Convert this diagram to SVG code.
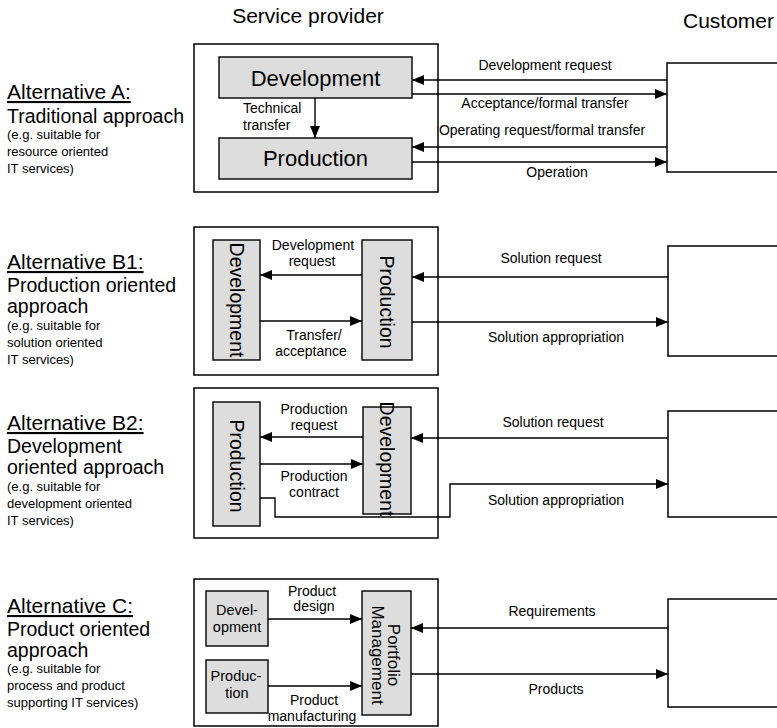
<svg xmlns="http://www.w3.org/2000/svg" width="777" height="728" viewBox="0 0 777 728">
  <style>
    text { font-family: "Liberation Sans", Arial, sans-serif; fill: #000; }
    .head { font-size: 21px; }
    .alt { font-size: 21px; text-decoration: underline; }
    .main { font-size: 19.5px; }
    .small { font-size: 13px; }
    .lbl { font-size: 14px; }
    .mid { text-anchor: middle; }
    .box { fill: #fff; stroke: #000; stroke-width: 1.5; }
    .unit { fill: #dddddd; stroke: #000; stroke-width: 1.4; }
    .unit-big { font-size: 22px; }
    .unit-v { font-size: 19.5px; }
    .unit-s { font-size: 14.5px; }
    .conn path { fill: none; stroke: #000; stroke-width: 1.4; marker-end: url(#arrow); }
  </style>
  <defs>
    <marker id="arrow" markerUnits="userSpaceOnUse" markerWidth="12" markerHeight="10" refX="12" refY="5" orient="auto">
      <path d="M0,0 L12,5 L0,10 z" fill="#000"/>
    </marker>
  </defs>

  <!-- column headings -->
  <text class="head mid" x="308" y="23">Service provider</text>
  <text class="head" x="683" y="28">Customer</text>

  <!-- ===== Alternative A ===== -->
  <g id="label-a">
    <text class="alt" x="7" y="99">Alternative A:</text>
    <text class="main" x="7" y="123">Traditional approach</text>
    <text class="small" x="7" y="139">(e.g. suitable for</text>
    <text class="small" x="7" y="156">resource oriented</text>
    <text class="small" x="7" y="173">IT services)</text>
  </g>
  <g id="provider-a"><rect class="box" x="194" y="44" width="244" height="148"/></g>
  <g id="a-development">
    <rect class="unit" x="219" y="57" width="193" height="41"/>
    <text class="unit-big mid" x="315.5" y="86">Development</text>
  </g>
  <g id="a-production">
    <rect class="unit" x="219" y="138" width="193" height="41"/>
    <text class="unit-big mid" x="315.5" y="166">Production</text>
  </g>
  <g id="customer-a"><rect class="box" x="667" y="63" width="200" height="109"/></g>

  <!-- ===== Alternative B1 ===== -->
  <g id="label-b1">
    <text class="alt" x="7" y="269">Alternative B1:</text>
    <text class="main" x="7" y="292">Production oriented</text>
    <text class="main" x="7" y="313">approach</text>
    <text class="small" x="7" y="330">(e.g. suitable for</text>
    <text class="small" x="7" y="347">solution oriented</text>
    <text class="small" x="7" y="364">IT services)</text>
  </g>
  <g id="provider-b1"><rect class="box" x="194" y="227" width="244" height="148"/></g>
  <g id="b1-development">
    <rect class="unit" x="213" y="240" width="47" height="120"/>
    <text class="unit-v mid" transform="translate(236.5,300) rotate(90)" x="0" y="7">Development</text>
  </g>
  <g id="b1-production">
    <rect class="unit" x="362" y="240" width="50" height="120"/>
    <text class="unit-v mid" transform="translate(387,302) rotate(90)" x="0" y="7">Production</text>
  </g>
  <g id="customer-b1"><rect class="box" x="668" y="246" width="200" height="110"/></g>

  <!-- ===== Alternative B2 ===== -->
  <g id="label-b2">
    <text class="alt" x="7" y="430">Alternative B2:</text>
    <text class="main" x="7" y="453">Development</text>
    <text class="main" x="7" y="474">oriented approach</text>
    <text class="small" x="7" y="491">(e.g. suitable for</text>
    <text class="small" x="7" y="508">development oriented</text>
    <text class="small" x="7" y="525">IT services)</text>
  </g>
  <g id="provider-b2"><rect class="box" x="194" y="388" width="244" height="150"/></g>
  <g id="b2-production">
    <rect class="unit" x="213" y="402" width="47" height="124"/>
    <text class="unit-v mid" transform="translate(236.5,466) rotate(90)" x="0" y="7">Production</text>
  </g>
  <g id="b2-development">
    <rect class="unit" x="363" y="407" width="48" height="107"/>
    <text class="unit-v mid" transform="translate(387,459) rotate(90)" x="0" y="7">Development</text>
  </g>
  <g id="customer-b2"><rect class="box" x="668" y="411" width="200" height="106"/></g>

  <!-- ===== Alternative C ===== -->
  <g id="label-c">
    <text class="alt" x="7" y="613">Alternative C:</text>
    <text class="main" x="7" y="636">Product oriented</text>
    <text class="main" x="7" y="657">approach</text>
    <text class="small" x="7" y="673">(e.g. suitable for</text>
    <text class="small" x="7" y="690">process and product</text>
    <text class="small" x="7" y="707">supporting IT services)</text>
  </g>
  <g id="provider-c"><rect class="box" x="194" y="579" width="244" height="147"/></g>
  <g id="c-development">
    <rect class="unit" x="206" y="591" width="62" height="55"/>
    <text class="unit-s mid" x="237" y="615">Devel-</text>
    <text class="unit-s mid" x="237" y="632">opment</text>
  </g>
  <g id="c-production">
    <rect class="unit" x="206" y="660" width="62" height="53"/>
    <text class="unit-s mid" x="236" y="681">Produc-</text>
    <text class="unit-s mid" x="237" y="698">tion</text>
  </g>
  <g id="c-portfolio">
    <rect class="unit" x="362" y="591" width="49" height="124"/>
    <g transform="translate(387,655) rotate(90)">
      <text class="mid" style="font-size:17px" x="0" y="-1">Portfolio</text>
      <text class="mid" style="font-size:17px" x="0" y="15">Management</text>
    </g>
  </g>
  <g id="customer-c"><rect class="box" x="668" y="599" width="200" height="108"/></g>

  <!-- connectors -->
  <g id="connectors" class="conn">
    <!-- A -->
    <path d="M315,98 V138"/>
    <path d="M667,80 H412"/>
    <path d="M412,94 H667"/>
    <path d="M667,147 H412"/>
    <path d="M412,162 H667"/>
    <!-- B1 -->
    <path d="M362,275 H260"/>
    <path d="M260,321 H362"/>
    <path d="M668,277 H412"/>
    <path d="M412,322 H668"/>
    <!-- B2 -->
    <path d="M363,437 H260"/>
    <path d="M260,464 H363"/>
    <path d="M668,438 H411"/>
    <path d="M260,498 H275 V517 H450 V484 H668"/>
    <!-- C -->
    <path d="M268,619 H362"/>
    <path d="M268,686 H362"/>
    <path d="M668,628 H411"/>
    <path d="M411,674 H668"/>
  </g>

  <!-- connector labels -->
  <g id="connector-labels" class="lbl">
    <text class="lbl" x="243" y="113">Technical</text>
    <text class="lbl" x="243" y="130">transfer</text>
    <text class="lbl mid" x="545" y="70">Development request</text>
    <text class="lbl mid" x="545" y="108">Acceptance/formal transfer</text>
    <text class="lbl mid" x="542" y="135">Operating request/formal transfer</text>
    <text class="lbl mid" x="557" y="177">Operation</text>

    <text class="lbl mid" x="313" y="250">Development</text>
    <text class="lbl mid" x="312" y="266">request</text>
    <text class="lbl mid" x="314" y="340">Transfer/</text>
    <text class="lbl mid" x="311" y="356">acceptance</text>
    <text class="lbl mid" x="551" y="263">Solution request</text>
    <text class="lbl mid" x="556" y="342">Solution appropriation</text>

    <text class="lbl mid" x="314" y="414">Production</text>
    <text class="lbl mid" x="314" y="430">request</text>
    <text class="lbl mid" x="314" y="481">Production</text>
    <text class="lbl mid" x="314" y="497">contract</text>
    <text class="lbl mid" x="553" y="427">Solution request</text>
    <text class="lbl mid" x="556" y="505">Solution appropriation</text>

    <text class="lbl mid" x="312" y="596">Product</text>
    <text class="lbl mid" x="314" y="611">design</text>
    <text class="lbl mid" x="314" y="705">Product</text>
    <text class="lbl mid" x="312" y="721">manufacturing</text>
    <text class="lbl mid" x="552" y="616">Requirements</text>
    <text class="lbl mid" x="556" y="694">Products</text>
  </g>
</svg>
